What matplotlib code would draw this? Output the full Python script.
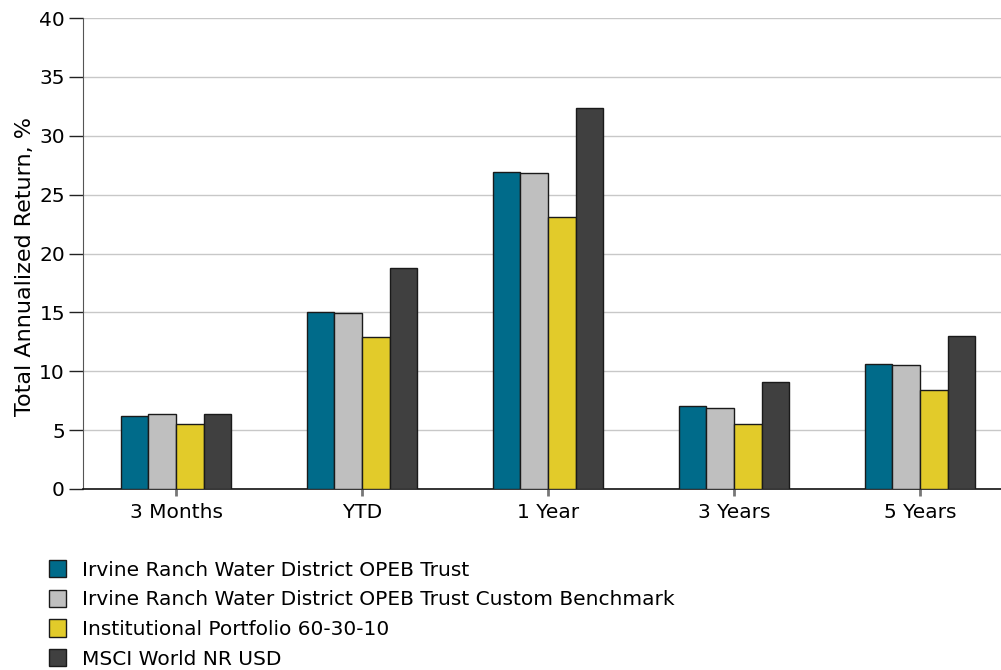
import matplotlib
matplotlib.use("Agg")
import matplotlib.pyplot as plt
import numpy as np
from matplotlib.patches import Patch

categories = ["3 Months", "YTD", "1 Year", "3 Years", "5 Years"]
series_names = [
    "Irvine Ranch Water District OPEB Trust",
    "Irvine Ranch Water District OPEB Trust Custom Benchmark",
    "Institutional Portfolio 60-30-10",
    "MSCI World NR USD",
]
trust = [6.2, 15.0, 26.9, 7.05, 10.6]
benchmark = [6.37, 14.98, 26.84, 6.86, 10.5]
portfolio = [5.52, 12.9, 23.08, 5.5, 8.45]
msci = [6.37, 18.8, 32.35, 9.07, 12.97]
colors = ["#006B8A", "#BFBFBF", "#E2CB2A", "#404040"]

fig = plt.figure(figsize=(10.01, 6.70), dpi=100)
W, H = 1001, 670
left, right, top, bottom = 83, 1013, 18, 489
ax = fig.add_axes([left / W, 1 - bottom / H, (right - left) / W, (bottom - top) / H])

x = np.arange(len(categories))
bw = 0.149
data = [trust, benchmark, portfolio, msci]
for i, (vals, c) in enumerate(zip(data, colors)):
    ax.bar(x + (i - 1.5) * bw, vals, width=bw, color=c, edgecolor="#1a1a1a",
           linewidth=1.0, zorder=3)

ax.set_xlim(-0.5, 4.5)
ax.set_ylim(0, 40)
ax.set_yticks(range(0, 41, 5))
ax.set_xticks(x)
ax.set_xticklabels(categories, fontsize=14.5)
ax.tick_params(axis="y", labelsize=14.5, length=10, width=1, color="#222222", pad=3)
ax.tick_params(axis="x", length=5, width=2, color="#777777", pad=5)
ax.grid(axis="y", color="#c8c8c8", linewidth=1, zorder=0)
ax.set_axisbelow(True)
for s in ["top", "right"]:
    ax.spines[s].set_visible(False)
ax.spines["left"].set_color("#555555")
ax.spines["bottom"].set_color("#111111")
ax.spines["bottom"].set_linewidth(1.2)
ax.set_ylabel("Total Annualized Return, %", fontsize=16, va="center")
ax.yaxis.set_label_coords((25 - left) / (right - left), (bottom - 266) / (bottom - top))

handles = [Patch(facecolor=c, edgecolor="#1a1a1a", linewidth=1) for c in colors]
fig.legend(handles, series_names, loc="upper left", bbox_to_anchor=(49 / W, 1 - 560 / H),
           frameon=False, fontsize=14.5, handlelength=0.85, handleheight=0.95,
           handletextpad=0.8, labelspacing=0.5, borderaxespad=0, borderpad=0)

fig.savefig("out.png", dpi=100)
